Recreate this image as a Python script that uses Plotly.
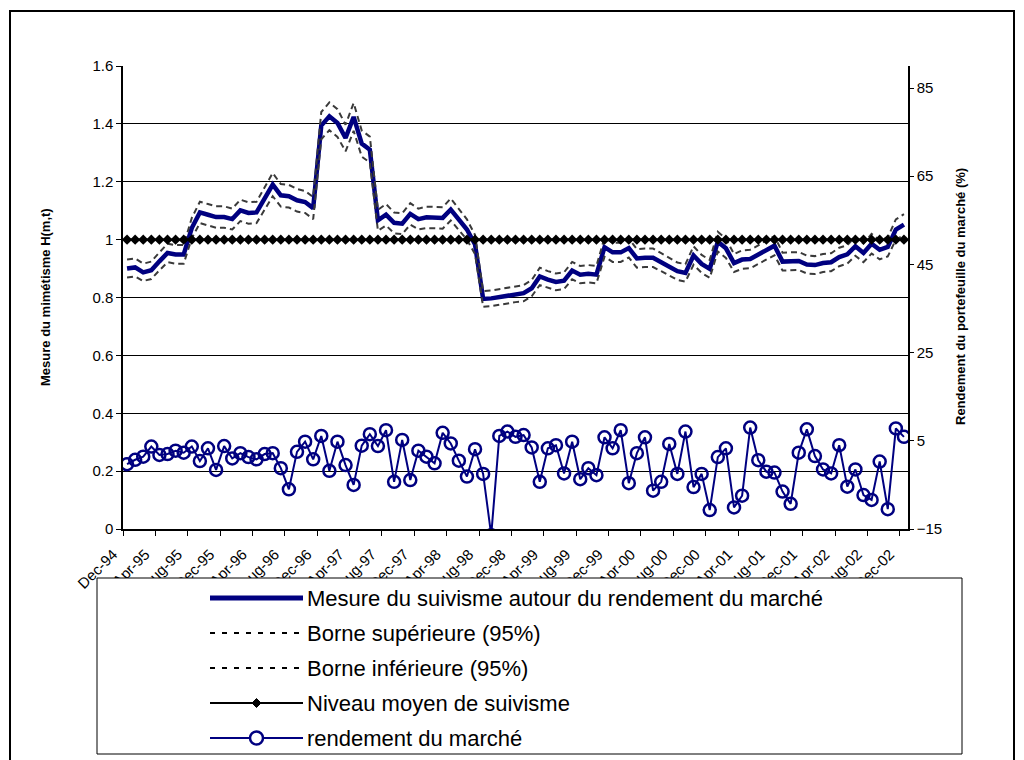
import plotly.graph_objects as go

# ---- data -------------------------------------------------------------
months = list(range(97))  # monthly observations, Dec-94 .. Dec-02 (+1)

tick_labels = ["Dec-94", "Apr-95", "Aug-95", "Dec-95", "Apr-96", "Aug-96",
               "Dec-96", "Apr-97", "Aug-97", "Dec-97", "Apr-98", "Aug-98",
               "Dec-98", "Apr-99", "Aug-99", "Dec-99", "Apr-00", "Aug-00",
               "Dec-00", "Apr-01", "Aug-01", "Dec-01", "Apr-02", "Aug-02",
               "Dec-02"]

herding = [0.900, 0.904, 0.887, 0.894, 0.925, 0.954, 0.949, 0.949, 1.040, 1.094,
           1.086, 1.078, 1.078, 1.071, 1.101, 1.092, 1.094, 1.144, 1.190, 1.153,
           1.150, 1.136, 1.130, 1.109, 1.394, 1.426, 1.403, 1.351, 1.424, 1.332,
           1.311, 1.067, 1.086, 1.058, 1.055, 1.089, 1.071, 1.077, 1.075, 1.075,
           1.104, 1.069, 1.035, 0.983, 0.795, 0.797, 0.802, 0.808, 0.812, 0.815,
           0.832, 0.873, 0.862, 0.854, 0.858, 0.893, 0.879, 0.882, 0.879, 0.974,
           0.956, 0.956, 0.971, 0.935, 0.937, 0.937, 0.922, 0.906, 0.891, 0.885,
           0.945, 0.916, 0.899, 0.993, 0.970, 0.919, 0.931, 0.933, 0.948, 0.965,
           0.979, 0.924, 0.924, 0.926, 0.914, 0.912, 0.919, 0.922, 0.940, 0.949,
           0.977, 0.954, 0.986, 0.965, 0.975, 1.035, 1.052]

upper = [0.931, 0.935, 0.917, 0.924, 0.956, 0.986, 0.981, 0.981, 1.075, 1.131,
         1.123, 1.115, 1.115, 1.107, 1.138, 1.129, 1.131, 1.183, 1.230, 1.192,
         1.189, 1.175, 1.168, 1.147, 1.441, 1.474, 1.451, 1.397, 1.472, 1.377,
         1.356, 1.103, 1.123, 1.094, 1.091, 1.126, 1.107, 1.114, 1.112, 1.112,
         1.142, 1.105, 1.070, 1.016, 0.822, 0.824, 0.829, 0.835, 0.840, 0.843,
         0.860, 0.903, 0.891, 0.883, 0.887, 0.923, 0.909, 0.912, 0.909, 1.007,
         0.989, 0.989, 1.004, 0.967, 0.969, 0.969, 0.953, 0.937, 0.921, 0.915,
         0.977, 0.947, 0.930, 1.027, 1.003, 0.950, 0.963, 0.965, 0.980, 0.998,
         1.012, 0.955, 0.955, 0.957, 0.945, 0.943, 0.950, 0.953, 0.972, 0.981,
         1.010, 0.986, 1.020, 0.998, 1.008, 1.070, 1.088]

lower = [0.869, 0.873, 0.857, 0.864, 0.894, 0.922, 0.917, 0.917, 1.005, 1.057,
         1.049, 1.041, 1.041, 1.035, 1.064, 1.055, 1.057, 1.105, 1.150, 1.114,
         1.111, 1.097, 1.092, 1.071, 1.347, 1.378, 1.355, 1.305, 1.376, 1.287,
         1.266, 1.031, 1.049, 1.022, 1.019, 1.052, 1.035, 1.040, 1.038, 1.038,
         1.066, 1.033, 1.000, 0.950, 0.768, 0.770, 0.775, 0.781, 0.784, 0.787,
         0.804, 0.843, 0.833, 0.825, 0.829, 0.863, 0.849, 0.852, 0.849, 0.941,
         0.923, 0.923, 0.938, 0.903, 0.905, 0.905, 0.891, 0.875, 0.861, 0.855,
         0.913, 0.885, 0.868, 0.959, 0.937, 0.888, 0.899, 0.901, 0.916, 0.932,
         0.946, 0.893, 0.893, 0.895, 0.883, 0.881, 0.888, 0.891, 0.908, 0.917,
         0.944, 0.922, 0.952, 0.932, 0.942, 1.000, 1.016]

mean_level = [1.0] * 97

market_return = [-0.3, 0.7, 1.4, 3.7, 1.8, 2.0, 2.75, 2.3, 3.7, 0.4,
                 3.3, -1.6, 3.8, 1.0, 2.2, 1.3, 0.8, 2.0, 2.2, -1.2,
                 -6.0, 2.5, 4.8, 0.8, 6.1, -1.8, 4.8, -0.5, -5.0, 3.9,
                 6.5, 3.8, 7.4, -4.3, 5.2, -3.9, 2.75, 1.4, -0.1, 6.8,
                 4.4, 0.5, -3.1, 3.1, -2.5, -16.4, 6.1, 7.1, 5.9, 6.3,
                 3.5, -4.3, 3.3, 4.0, -2.4, 4.8, -3.7, -1.2, -2.8, 5.8,
                 3.3, 7.4, -4.6, 2.2, 5.8, -6.3, -4.3, 4.3, -2.5, 7.1,
                 -5.5, -2.5, -10.7, 1.3, 3.3, -10.1, -7.45, 8.0, 0.6, -2.0,
                 -2.2, -6.5, -9.3, 2.3, 7.6, 1.55, -1.5, -2.4, 4.0, -5.4,
                 -1.5, -7.3, -8.4, 0.3, -10.5, 7.8, 5.9]

legend_names = ["Mesure du suivisme autour du rendement du marché",
                "Borne supérieure (95%)",
                "Borne inférieure (95%)",
                "Niveau moyen de suivisme",
                "rendement du marché"]

# ---- styling ----------------------------------------------------------
NAVY = "#000080"
DASH_GREY = "#3a3a3a"
FONT = "Liberation Sans, Arial, sans-serif"

W, H_PX = 1024, 760
PL, PR, PT, PB = 123, 908, 66, 529   # plot-area edges in pixels


def px(x):
    return (x - PL) / (PR - PL)


def py(y):
    return (PB - y) / (PB - PT)


fig = go.Figure()

fig.add_trace(go.Scatter(x=months, y=herding, mode="lines", name=legend_names[0],
                         line=dict(color=NAVY, width=4.5)))
fig.add_trace(go.Scatter(x=months, y=upper, mode="lines", name=legend_names[1],
                         line=dict(color=DASH_GREY, width=2, dash="6px,4px")))
fig.add_trace(go.Scatter(x=months, y=lower, mode="lines", name=legend_names[2],
                         line=dict(color=DASH_GREY, width=2, dash="6px,4px")))
fig.add_trace(go.Scatter(x=months, y=mean_level, mode="lines+markers", name=legend_names[3],
                         line=dict(color="black", width=2.2),
                         marker=dict(symbol="diamond", size=8, color="black")))
fig.add_trace(go.Scatter(x=months, y=market_return, mode="lines+markers", name=legend_names[4],
                         yaxis="y2",
                         line=dict(color=NAVY, width=2),
                         marker=dict(symbol="circle-open", size=12, color=NAVY,
                                     line=dict(width=2.5, color=NAVY))))

tick_pos = [i * 4 - 0.5 for i in range(len(tick_labels))]

fig.update_layout(
    width=W, height=H_PX,
    margin=dict(l=PL, r=W - PR, t=PT, b=H_PX - PB),
    paper_bgcolor="white", plot_bgcolor="white",
    showlegend=False,
    font=dict(family=FONT, color="black"),
    xaxis=dict(range=[-0.5, 96.5], tickmode="array", tickvals=tick_pos,
               ticktext=tick_labels, tickangle=-45, ticks="outside", ticklen=5,
               tickcolor="black", tickwidth=1, showline=True, linecolor="black",
               linewidth=1.5, showgrid=False, zeroline=False,
               ticklabelstandoff=4, ticklabelshift=-10,
               tickfont=dict(size=15, family=FONT)),
    yaxis=dict(range=[0, 1.6], dtick=0.2, tick0=0, ticks="outside", ticklen=5,
               tickcolor="black", showline=True, linecolor="black", linewidth=1.5,
               showgrid=True, gridcolor="black", gridwidth=1, zeroline=False,
               tickfont=dict(size=15, family=FONT)),
    yaxis2=dict(overlaying="y", side="right", range=[-15, 90], tickmode="array",
                tickvals=[-15, 5, 25, 45, 65, 85], ticks="outside", ticklen=4,
                tickcolor="black", showline=True, linecolor="black", linewidth=1.5,
                showgrid=False, zeroline=False,
                tickfont=dict(size=15, family=FONT)),
    yaxis3=dict(overlaying="y", side="right", range=[-15, 90], tickmode="array",
                tickvals=[-15, 5, 25, 45, 65, 85], ticks="inside", ticklen=6,
                tickcolor="black", showticklabels=False, showline=False,
                showgrid=False, zeroline=False),
)

shapes = []
annotations = []

# outer frame
shapes.append(dict(type="rect", xref="paper", yref="paper",
                   x0=px(10), x1=px(1014), y0=py(11), y1=py(820),
                   line=dict(color="black", width=2), fillcolor="rgba(0,0,0,0)",
                   layer="above"))

# legend box
shapes.append(dict(type="rect", xref="paper", yref="paper",
                   x0=px(97), x1=px(962), y0=py(578), y1=py(754),
                   line=dict(color="black", width=1), fillcolor="white",
                   layer="above"))

rows = [598, 633, 668, 703, 738]
sx0, sx1, tx = 210, 303, 305
styles = [
    dict(color=NAVY, width=5, dash="solid"),
    dict(color="black", width=2, dash="5px,7px"),
    dict(color="black", width=2, dash="5px,7px"),
    dict(color="black", width=2, dash="solid"),
    dict(color=NAVY, width=2, dash="solid"),
]
for y, name, st in zip(rows, legend_names, styles):
    shapes.append(dict(type="line", xref="paper", yref="paper",
                       x0=px(sx0), x1=px(sx1), y0=py(y), y1=py(y),
                       line=st, layer="above"))
    annotations.append(dict(text=name, xref="paper", yref="paper",
                            x=px(tx), y=py(y), xanchor="left", yanchor="middle",
                            showarrow=False, font=dict(size=22, family=FONT, color="black")))

cx = (sx0 + sx1) / 2
# diamond marker for the mean-level sample
d = 4.5
y4 = rows[3]
shapes.append(dict(type="path", xref="paper", yref="paper",
                   path=f"M {px(cx - d)},{py(y4)} L {px(cx)},{py(y4 - d)} "
                        f"L {px(cx + d)},{py(y4)} L {px(cx)},{py(y4 + d)} Z",
                   fillcolor="black", line=dict(color="black", width=1), layer="above"))
# open circle marker for the market-return sample
r = 6.5
y5 = rows[4]
shapes.append(dict(type="circle", xref="paper", yref="paper",
                   x0=px(cx - r), x1=px(cx + r), y0=py(y5 + r), y1=py(y5 - r),
                   fillcolor="white", line=dict(color=NAVY, width=2.5), layer="above"))

# axis titles
annotations.append(dict(text="<b>Mesure du mimétisme H(m,t)</b>", xref="paper", yref="paper",
                        x=px(45), y=py(297), textangle=-90, showarrow=False,
                        xanchor="center", yanchor="middle",
                        font=dict(size=13, family=FONT, color="black")))
annotations.append(dict(text="<b>Rendement du portefeuille du marché (%)</b>", xref="paper",
                        yref="paper", x=px(960), y=py(297), textangle=-90, showarrow=False,
                        xanchor="center", yanchor="middle",
                        font=dict(size=13, family=FONT, color="black")))

fig.update_layout(shapes=shapes, annotations=annotations)

fig.write_html("out.html")
